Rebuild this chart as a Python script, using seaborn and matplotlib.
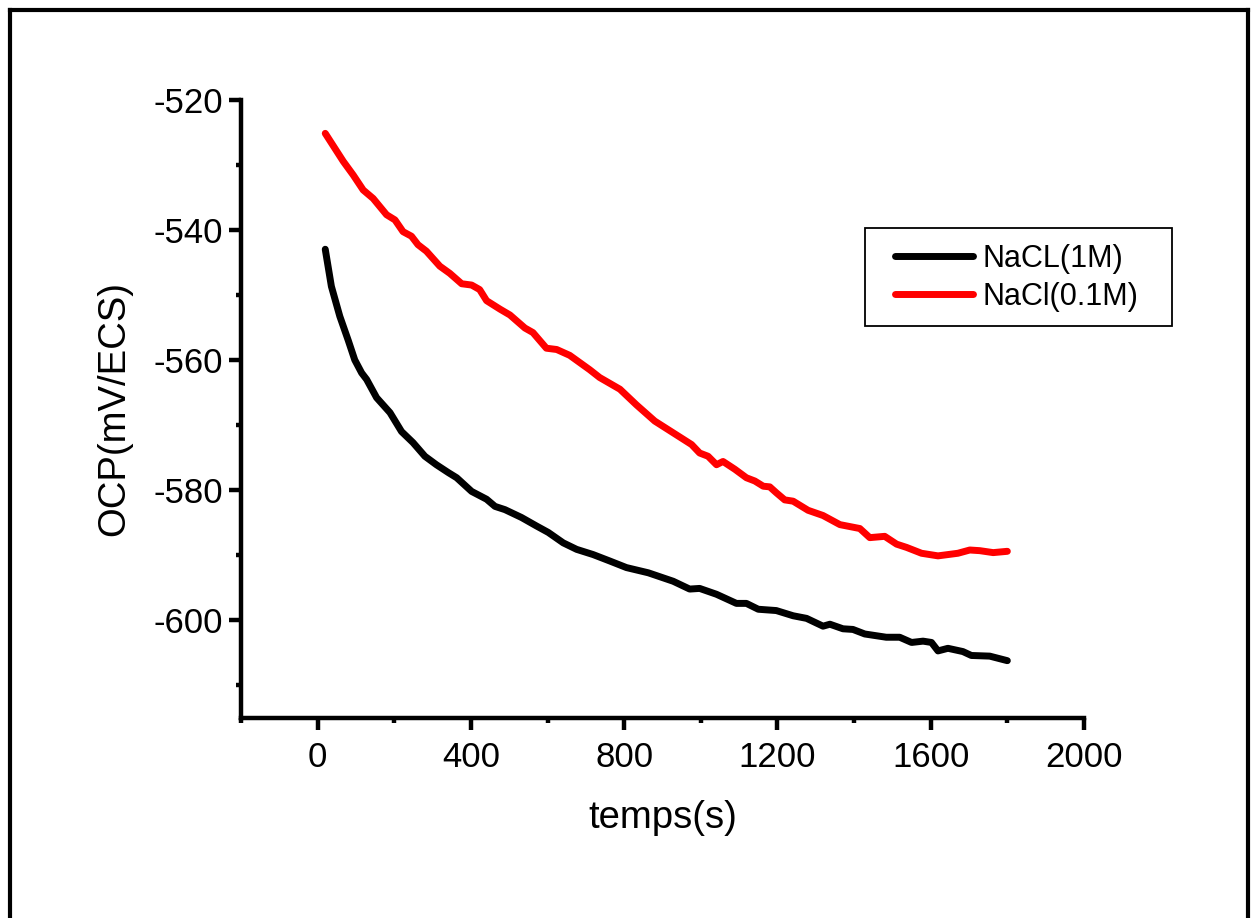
import matplotlib
matplotlib.use("Agg")
import matplotlib.pyplot as plt
from matplotlib.lines import Line2D
from matplotlib.patches import Rectangle
from matplotlib.ticker import MultipleLocator
import seaborn as sns
import pandas as pd

# ---- data ----
t_1M = [20, 36, 58, 80, 97, 115, 128, 154, 189, 219, 249, 280, 310, 341, 363,
        402, 441, 463, 489, 532, 571, 602, 641, 676, 719, 763, 806, 863, 928,
        971, 997, 1041, 1093, 1119, 1150, 1197, 1241, 1276, 1319, 1337, 1371,
        1397, 1428, 1484, 1519, 1550, 1580, 1602, 1619, 1645, 1684, 1706, 1754,
        1800]
ocp_1M = [-543.0, -548.7, -553.3, -557.0, -560.0, -562.0, -563.0, -565.8,
          -568.1, -571.0, -572.7, -574.8, -576.1, -577.3, -578.1, -580.2,
          -581.4, -582.5, -583.0, -584.2, -585.5, -586.5, -588.1, -589.1,
          -589.9, -590.9, -591.9, -592.7, -594.0, -595.2, -595.1, -596.0,
          -597.4, -597.4, -598.3, -598.5, -599.3, -599.7, -600.9, -600.6,
          -601.3, -601.4, -602.1, -602.6, -602.6, -603.4, -603.2, -603.4,
          -604.7, -604.3, -604.8, -605.4, -605.5, -606.2]

t_01M = [20, 67, 93, 119, 145, 180, 202, 223, 245, 262, 284, 319, 345, 376,
         402, 423, 441, 476, 502, 541, 562, 597, 624, 658, 684, 710, 736, 789,
         832, 880, 928, 976, 997, 1019, 1041, 1058, 1089, 1119, 1141, 1163,
         1180, 1197, 1219, 1241, 1280, 1319, 1363, 1415, 1441, 1480, 1511,
         1537, 1576, 1619, 1671, 1702, 1728, 1763, 1800]
ocp_01M = [-525.2, -529.5, -531.6, -533.9, -535.2, -537.7, -538.5, -540.3,
           -541.0, -542.3, -543.3, -545.6, -546.7, -548.3, -548.5, -549.2,
           -550.9, -552.2, -553.1, -555.1, -555.8, -558.2, -558.4, -559.3,
           -560.4, -561.5, -562.7, -564.5, -566.9, -569.4, -571.2, -573.0,
           -574.3, -574.8, -576.1, -575.6, -576.8, -578.1, -578.6, -579.4,
           -579.5, -580.4, -581.5, -581.7, -583.1, -583.9, -585.3, -585.9,
           -587.3, -587.1, -588.3, -588.8, -589.7, -590.1, -589.7, -589.2,
           -589.3, -589.6, -589.4]

labels = ["NaCL(1M)", "NaCl(0.1M)"]
colors = {"NaCL(1M)": "black", "NaCl(0.1M)": "#ff0000"}

df = pd.concat([
    pd.DataFrame({"t": t_1M, "ocp": ocp_1M, "serie": labels[0]}),
    pd.DataFrame({"t": t_01M, "ocp": ocp_01M, "serie": labels[1]}),
], ignore_index=True)

sns.set_theme(style="ticks")
plt.rcParams["font.family"] = ["Liberation Sans", "DejaVu Sans"]
plt.rcParams["axes.unicode_minus"] = False
plt.rcParams["text.color"] = "black"
plt.rcParams["axes.labelcolor"] = "black"
plt.rcParams["xtick.color"] = "black"
plt.rcParams["ytick.color"] = "black"

fig = plt.figure(figsize=(12.51, 9.18), dpi=100)
ax = fig.add_axes([0.1926, 0.2179, 0.6739, 0.6737])

sns.lineplot(data=df, x="t", y="ocp", hue="serie", palette=colors,
             hue_order=labels, linewidth=5, ax=ax, sort=False,
             estimator=None)

ax.set_xlim(-200, 2000)
ax.set_ylim(-615, -520)
ax.xaxis.set_major_locator(MultipleLocator(400))
ax.xaxis.set_minor_locator(MultipleLocator(200))
ax.yaxis.set_major_locator(MultipleLocator(20))
ax.yaxis.set_minor_locator(MultipleLocator(10))

for s in ["top", "right"]:
    ax.spines[s].set_visible(False)
for s in ["left", "bottom"]:
    ax.spines[s].set_linewidth(3.2)
    ax.spines[s].set_color("black")

ax.tick_params(which="major", direction="out", length=8.5, width=3.2,
               labelsize=25, labelcolor="black")
ax.tick_params(which="minor", direction="out", length=3.5, width=3.2)
ax.tick_params(axis="x", which="major", pad=8)
ax.tick_params(axis="y", which="major", pad=4.5)

ax.set_xlabel("temps(s)", fontsize=27.5, labelpad=19, color="black")
ax.set_ylabel("OCP(mV/ECS)", fontsize=27.5, labelpad=15, color="black")

# legend (entries) + plain rectangular frame
leg = ax.legend(loc="upper left", bbox_to_anchor=(895 / 1251, 1 - 244 / 918),
                bbox_transform=fig.transFigure, borderaxespad=0, borderpad=0,
                fontsize=22, frameon=False, handlelength=2.55,
                handletextpad=0.3, labelspacing=0.25, title=None)
for h in leg.get_lines():
    h.set_linewidth(5)
fig.add_artist(Rectangle((865 / 1251, 1 - 326 / 918), 307 / 1251, 98 / 918,
                         transform=fig.transFigure, fill=False,
                         edgecolor="black", linewidth=1.3))

# outer frame (left, top, right)
fx0, fx1, fy1 = 9.5 / 1251, 1248 / 1251, 1 - 10.3 / 918
for xs, ys in [([fx0, fx0], [0, fy1]), ([fx0, fx1], [fy1, fy1]),
               ([fx1, fx1], [0, fy1])]:
    fig.add_artist(Line2D(xs, ys, color="black", lw=3.0,
                          solid_capstyle="projecting"))

fig.savefig("out.png", dpi=100, facecolor="white")
